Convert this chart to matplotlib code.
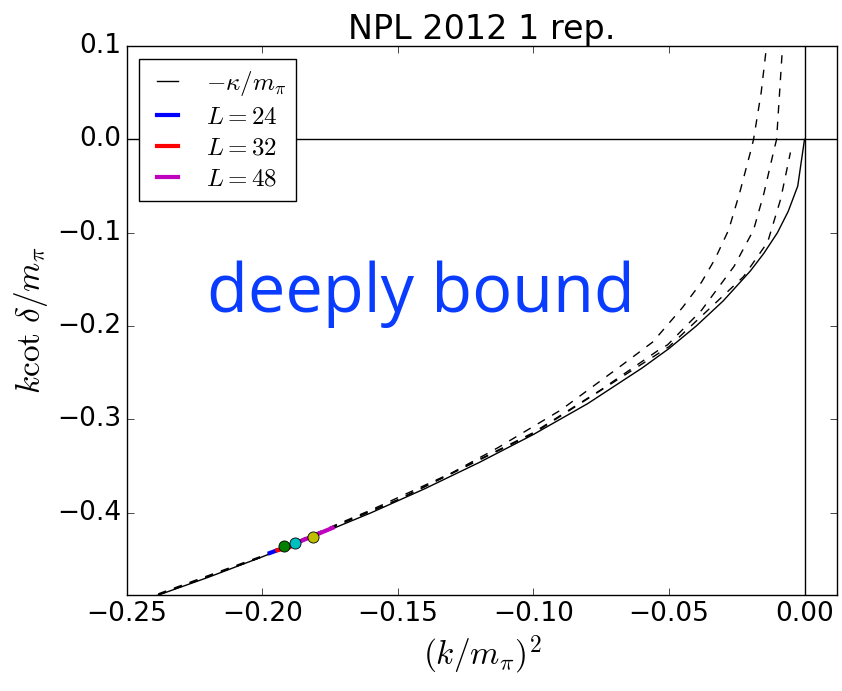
import matplotlib
matplotlib.use('Agg')
import matplotlib.pyplot as plt
import numpy as np

plt.style.use('classic')

# bound state curve -kappa/m_pi
solid_x = [-0.25, -0.22, -0.20, -0.18, -0.16, -0.14, -0.12, -0.10, -0.08, -0.06,
           -0.05, -0.04, -0.03, -0.02, -0.015, -0.01, -0.006, -0.0025, 0.0]
solid_y = [-0.500, -0.469, -0.447, -0.424, -0.400, -0.374, -0.346, -0.316, -0.283, -0.245,
           -0.224, -0.200, -0.173, -0.141, -0.122, -0.100, -0.077, -0.050, 0.0]

# dashed curves (finite volume)
dash1_x = [-0.25, -0.20, -0.16, -0.13, -0.113, -0.09, -0.067, -0.056, -0.045, -0.038,
           -0.033, -0.028, -0.024, -0.0199, -0.0188, -0.016, -0.014, -0.013]
dash1_y = [-0.499, -0.446, -0.397, -0.357, -0.330, -0.290, -0.241, -0.217, -0.180, -0.153,
           -0.128, -0.097, -0.058, -0.013, 0.0, 0.05, 0.1, 0.13]

dash2_x = [-0.25, -0.20, -0.15, -0.10, -0.075, -0.054, -0.0505, -0.038, -0.026, -0.0188,
           -0.015, -0.0114, -0.0103, -0.0092, -0.0081, -0.0075]
dash2_y = [-0.500, -0.447, -0.386, -0.314, -0.268, -0.226, -0.220, -0.183, -0.136, -0.097,
           -0.058, -0.013, 0.0, 0.05, 0.1, 0.13]

dash3_x = [-0.25, -0.20, -0.15, -0.10, -0.05, -0.0225, -0.0136, -0.0088, -0.0052]
dash3_y = [-0.500, -0.447, -0.386, -0.315, -0.222, -0.147, -0.110, -0.064, -0.014]

# fitted bands per volume
L24_x = [-0.1973, -0.1945]
L24_y = [-0.443, -0.440]
L32_x = [-0.1945, -0.1902]
L32_y = [-0.440, -0.437]
L48_x = [-0.1922, -0.1741]
L48_y = [-0.438, -0.416]

# data points
pt_x = [-0.1922, -0.1879, -0.1814]
pt_y = [-0.436, -0.432, -0.426]
pt_colors = ['g', 'c', 'y']

x_ticks = [-0.25, -0.20, -0.15, -0.10, -0.05, 0.00]
y_ticks = [-0.4, -0.3, -0.2, -0.1, 0.0, 0.1]

fig = plt.figure(figsize=(8.42, 6.91), dpi=100, facecolor='white')
ax = fig.add_axes([0.1508, 0.1389, 0.8433, 0.7945])

ax.axhline(0, color='k', lw=1)
ax.axvline(0, color='k', lw=1)

ax.plot(solid_x, solid_y, 'k-', lw=1, label=r'$-\kappa/m_\pi$')
ax.plot(dash1_x, dash1_y, 'k--', lw=1)
ax.plot(dash2_x, dash2_y, 'k--', lw=1)
ax.plot(dash3_x, dash3_y, 'k--', lw=1)

ax.plot(L24_x, L24_y, 'b-', lw=3, label=r'$L=24$')
ax.plot(L32_x, L32_y, 'r-', lw=3, label=r'$L=32$')
ax.plot(L48_x, L48_y, 'm-', lw=3, label=r'$L=48$')

for x, y, c in zip(pt_x, pt_y, pt_colors):
    ax.plot(x, y, 'o', color=c, ms=8, mec='k', mew=0.6, zorder=5)

ax.text(-0.1416, -0.1845, 'deeply bound', color='#0a3cff', fontsize=48,
        family='Open Sans', ha='center', va='baseline')

ax.set_xlim(-0.25, 0.012)
ax.set_ylim(-0.488, 0.1)
ax.set_xticks(x_ticks)
ax.set_yticks(y_ticks)
ax.set_xticklabels([f'{v:.2f}'.replace('-', '\u2212') for v in x_ticks])
ax.set_yticklabels([f'{v:.1f}'.replace('-', '\u2212') for v in y_ticks])
ax.tick_params(labelsize=19, length=5)

ax.set_xlabel(r'$(k/m_\pi)^2$', fontsize=24)
ax.set_ylabel(r'$k\cot\,\delta/m_\pi$', fontsize=24)
ax.set_title('NPL 2012 1 rep.', fontsize=24)

ax.legend(loc='upper left', fontsize=18, handlelength=1.45, labelspacing=0.28)

fig.savefig('out.png', dpi=100, facecolor='white')
